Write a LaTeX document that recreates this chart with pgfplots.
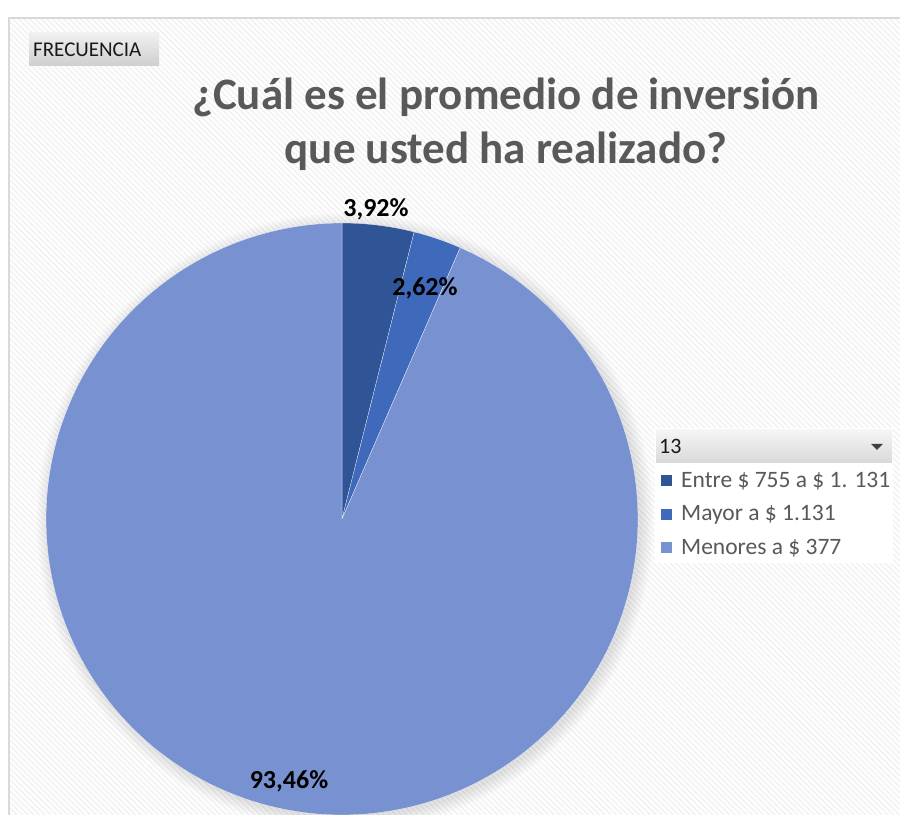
\documentclass[border=0pt]{standalone}
\usepackage{fontspec}
\setmainfont{Carlito}
\usepackage{pgfplots}
\pgfplotsset{compat=1.18}
\usetikzlibrary{patterns.meta}
\definecolor{cA}{HTML}{2F5597}
\definecolor{cB}{HTML}{3F69BA}
\definecolor{cC}{HTML}{7891D0}
\definecolor{tgray}{HTML}{595959}
\begin{document}
\begin{tikzpicture}
\begin{axis}[at={(0,0)}, anchor=south west, scale only axis, width=900bp, height=815bp,
  xmin=0, xmax=900, ymin=0, ymax=815, hide axis, clip=false]
% background and frame
\fill[white] (axis cs:0,0) rectangle (axis cs:900,815);
\fill[pattern={Lines[angle=-45,distance=4bp,line width=1.5bp]}, pattern color=gray!10] (axis cs:9,0) rectangle (axis cs:900,797);
\draw[gray!30, line width=2bp] (axis cs:9,0) -- (axis cs:9,797) -- (axis cs:900,797);
% FRECUENCIA button
\shade[top color=gray!12, bottom color=gray!38] (axis cs:29,749) rectangle (axis cs:159,782);
\node[anchor=west, inner sep=0pt, font=\fontsize{21bp}{24bp}\selectfont, text=black!90] at (axis cs:33,765.5) {FRECUENCIA};
% title
\node[font=\fontsize{45bp}{50bp}\selectfont\bfseries, text=tgray] at (axis cs:506,718) {¿Cuál es el promedio de inversión};
\node[font=\fontsize{45bp}{50bp}\selectfont\bfseries, text=tgray] at (axis cs:506,664) {que usted ha realizado?};
% glow
\pgfplotsinvokeforeach{1,...,14}{
  \fill[black, opacity=0.008] (axis cs:345,293) circle[radius=295+#1*1.0];
}
% pie wedges: 3,92 % ; 2,62 % ; 93,46 % (clockwise from 12 o'clock)
\addplot[fill=cA, draw=white, line width=0.2bp, domain=75.888:90, samples=30, variable=\t]
  ({342+296*cos(\t)},{296+296*sin(\t)}) -- (axis cs:342,296) -- cycle;
\addplot[fill=cB, draw=white, line width=0.2bp, domain=66.456:75.888, samples=20, variable=\t]
  ({342+296*cos(\t)},{296+296*sin(\t)}) -- (axis cs:342,296) -- cycle;
\addplot[fill=cC, draw=white, line width=0.2bp, domain=-270:66.456, samples=200, variable=\t]
  ({342+296*cos(\t)},{296+296*sin(\t)}) -- (axis cs:342,296) -- cycle;
% data labels
\node[font=\fontsize{26bp}{30bp}\selectfont\bfseries] at (axis cs:376,606) {3,92\%};
\node[font=\fontsize{26bp}{30bp}\selectfont\bfseries] at (axis cs:425,527) {2,62\%};
\node[font=\fontsize{26bp}{30bp}\selectfont\bfseries] at (axis cs:289,34) {93,46\%};
% legend
\fill[white] (axis cs:655,252) rectangle (axis cs:893,387);
\shade[top color=gray!8, bottom color=gray!30] (axis cs:656,352) rectangle (axis cs:892,385);
\node[anchor=west, inner sep=0pt, font=\fontsize{22bp}{25bp}\selectfont, text=black!90] at (axis cs:659,368.5) {13};
\fill[black!75] (axis cs:871,371) -- (axis cs:883,371) -- (axis cs:877,365) -- cycle;
\node[anchor=west, inner sep=0pt, font=\fontsize{23.5bp}{26bp}\selectfont, text=tgray] at (axis cs:661,334) {\textcolor{cA}{\rule[0.05em]{11bp}{11bp}}\hspace{9bp}Entre \$ 755 a \$ 1. 131};
\node[anchor=west, inner sep=0pt, font=\fontsize{23.5bp}{26bp}\selectfont, text=tgray] at (axis cs:661,300) {\textcolor{cB}{\rule[0.05em]{11bp}{11bp}}\hspace{9bp}Mayor a \$ 1.131};
\node[anchor=west, inner sep=0pt, font=\fontsize{23.5bp}{26bp}\selectfont, text=tgray] at (axis cs:661,267) {\textcolor{cC}{\rule[0.05em]{11bp}{11bp}}\hspace{9bp}Menores a \$ 377};
\end{axis}
\pgfresetboundingbox
\useasboundingbox (0,0) rectangle (900bp,815bp);
\end{tikzpicture}
\end{document}
